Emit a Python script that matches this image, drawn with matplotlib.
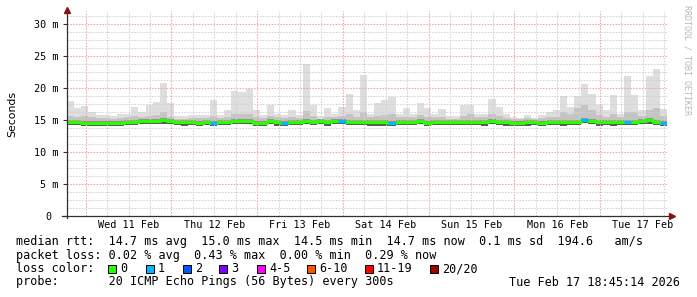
import numpy as np
import matplotlib
matplotlib.use('Agg')
import matplotlib.pyplot as plt

# hours since Tue 10 Feb 18:45, 2 hour bins
n_bins = 84
bin_h = 2.0

rtt_max = [18.0, 16.9, 17.2, 16.3, 15.8, 15.8, 15.6, 16.0, 16.0, 17.0, 16.3, 17.3,
           17.8, 20.8, 17.6, 15.6, 15.6, 15.8, 15.8, 15.8, 18.1, 15.8, 16.5, 19.6,
           19.4, 19.8, 16.5, 15.8, 17.3, 16.0, 15.8, 16.5, 15.8, 23.7, 17.3, 15.6,
           16.9, 16.0, 17.1, 19.0, 16.5, 22.1, 16.0, 17.6, 18.2, 18.6, 16.0, 16.8,
           16.0, 17.7, 16.9, 16.0, 16.7, 15.7, 15.7, 17.3, 17.4, 16.0, 16.0, 18.3,
           17.0, 16.0, 15.5, 15.3, 15.8, 15.3, 15.8, 16.2, 16.5, 18.7, 17.0, 18.8,
           20.7, 19.1, 17.3, 16.5, 18.9, 16.0, 21.9, 18.9, 16.5, 21.8, 23.0, 16.7]

rtt_q3 = [15.6, 15.5, 15.6, 15.4, 15.3, 15.3, 15.2, 15.3, 15.4, 15.6, 15.4, 15.7,
          15.8, 16.2, 15.5, 15.2, 15.2, 15.3, 15.3, 15.3, 15.6, 15.3, 15.5, 16.0,
          15.9, 16.0, 15.5, 15.3, 15.6, 15.4, 15.3, 15.5, 15.3, 16.4, 15.6, 15.2,
          15.5, 15.4, 15.6, 15.9, 15.5, 16.3, 15.4, 15.7, 15.8, 15.9, 15.4, 15.5,
          15.4, 15.8, 15.5, 15.4, 15.5, 15.2, 15.2, 15.6, 15.9, 15.4, 15.4, 15.9,
          15.6, 15.3, 15.2, 15.1, 15.3, 15.1, 15.3, 15.4, 15.5, 16.2, 16.0, 16.8,
          17.3, 16.6, 15.8, 15.5, 16.0, 15.4, 16.3, 16.2, 15.6, 16.6, 16.9, 15.6]

rtt_lo = [14.2, 14.2, 14.1, 14.1, 14.1, 14.1, 14.0, 14.1, 14.2, 14.2, 14.3, 14.3,
          14.3, 14.4, 14.4, 14.2, 14.1, 14.2, 14.1, 14.2, 14.1, 14.2, 14.2, 14.4,
          14.3, 14.3, 14.1, 14.0, 14.4, 14.1, 14.1, 14.2, 14.2, 14.4, 14.2, 14.3,
          14.1, 14.3, 14.3, 14.2, 14.2, 14.2, 14.1, 14.1, 14.1, 14.1, 14.2, 14.2,
          14.2, 14.3, 14.1, 14.2, 14.2, 14.2, 14.2, 14.2, 14.2, 14.2, 14.1, 14.3,
          14.2, 14.1, 14.1, 14.0, 14.1, 14.2, 14.1, 14.2, 14.2, 14.1, 14.2, 14.2,
          14.5, 14.3, 14.1, 14.2, 14.1, 14.2, 14.2, 14.2, 14.4, 14.4, 14.2, 14.0]

rtt_median = [14.75, 14.75, 14.6, 14.6, 14.6, 14.6, 14.5, 14.6, 14.75, 14.75, 14.8, 14.8,
              14.8, 14.95, 14.9, 14.75, 14.65, 14.7, 14.6, 14.75, 14.6, 14.7, 14.7, 14.9,
              14.8, 14.8, 14.6, 14.55, 14.9, 14.65, 14.6, 14.7, 14.7, 14.9, 14.75, 14.8,
              14.65, 14.8, 14.85, 14.7, 14.7, 14.7, 14.65, 14.65, 14.65, 14.6, 14.75, 14.7,
              14.7, 14.85, 14.6, 14.75, 14.7, 14.7, 14.7, 14.7, 14.75, 14.7, 14.65, 14.8,
              14.75, 14.65, 14.6, 14.55, 14.65, 14.7, 14.6, 14.75, 14.7, 14.65, 14.7, 14.75,
              15.0, 14.8, 14.65, 14.7, 14.65, 14.7, 14.7, 14.75, 14.9, 14.95, 14.75, 14.55]

loss = [0] * n_bins
for b in [20, 30, 38, 45, 72, 78, 83]:
    loss[b] = 1

loss_colors = ['#26ff00', '#00b8ff', '#0059ff', '#7e00ff', '#ff00ff',
               '#ff5500', '#ff0000', '#a10000']
loss_labels = ['0', '1', '2', '3', '4-5', '6-10', '11-19', '20/20']

day_labels = ['Wed 11 Feb', 'Thu 12 Feb', 'Fri 13 Feb', 'Sat 14 Feb',
              'Sun 15 Feb', 'Mon 16 Feb', 'Tue 17 Feb']
y_ticks = [0, 5, 10, 15, 20, 25, 30]
y_labels = ['0 ', '5 m', '10 m', '15 m', '20 m', '25 m', '30 m']

legend_lines = [
    'median rtt:  14.7 ms avg  15.0 ms max  14.5 ms min  14.7 ms now  0.1 ms sd  194.6   am/s',
    'packet loss: 0.02 % avg  0.43 % max  0.00 % min  0.29 % now',
]
probe_text = 'probe:       20 ICMP Echo Pings (56 Bytes) every 300s'
stamp_text = 'Tue Feb 17 18:45:14 2026'

mono = 'DejaVu Sans Mono'

fig = plt.figure(figsize=(6.97, 2.97), dpi=100)
fig.patch.set_facecolor('white')
ax = fig.add_axes([67/697, 81/297, 600/697, 204.8/297])
ax.set_xlim(0, 168)
ax.set_ylim(0, 32)

edges = np.arange(n_bins + 1) * bin_h
def ext(a):
    a = np.asarray(a, dtype=float)
    return np.append(a, a[-1])

med = np.asarray(rtt_median)
ax.fill_between(edges, ext(rtt_lo), ext(rtt_max), step='post', color='#dedede', lw=0, zorder=1)
ax.fill_between(edges, ext(rtt_lo), ext(rtt_q3), step='post', color='#c4c4c4', lw=0, zorder=1.1)
ax.fill_between(edges, ext(rtt_lo), ext(med + 0.3), step='post', color='#939393', lw=0, zorder=1.2)
ax.fill_between(edges, ext(rtt_lo), ext(med - 0.1), step='post', color='#5a5a5a', lw=0, zorder=1.3)

# grid
day0 = 5.25
for k in range(28):
    h = day0 + 6 * k
    if h > 168:
        break
    if k % 4 == 0:
        ax.axvline(h, color='#f0a0a0', lw=0.75, ls=(0, (1.4, 1.4)), zorder=2)
    else:
        ax.axvline(h, color='#d0d0d0', lw=0.75, ls=(0, (1.4, 1.4)), zorder=2)
for v in np.arange(1.25, 32, 1.25):
    if abs(v % 5) < 1e-6:
        ax.axhline(v, color='#f0a0a0', lw=0.75, ls=(0, (1.4, 1.4)), zorder=2)
    else:
        ax.axhline(v, color='#d0d0d0', lw=0.75, ls=(0, (1.4, 1.4)), zorder=2)

# median line coloured by loss
ax.step(edges, ext(med), where='post', color=loss_colors[0], lw=2.2, zorder=4)
for i in range(n_bins):
    if loss[i] > 0:
        ax.hlines(med[i], edges[i], edges[i + 1], color=loss_colors[loss[i]], lw=2.2, zorder=5)

for s in ax.spines.values():
    s.set_visible(False)
ax.plot([-0.008, 1.005], [0, 0], transform=ax.transAxes, color='#303030', lw=0.9, clip_on=False, zorder=6)
ax.plot([0, 0], [-0.012, 1.0], transform=ax.transAxes, color='#303030', lw=0.9, clip_on=False, zorder=6)
ax.plot([0], [1.005], marker='^', ms=4, color='#8b1010', transform=ax.transAxes, clip_on=False, zorder=7)
ax.plot([1.009], [0], marker='>', ms=4, color='#8b1010', transform=ax.transAxes, clip_on=False, zorder=7)

ax.set_yticks(y_ticks)
ax.set_yticklabels(y_labels, fontfamily=mono, fontsize=7.3)
ax.set_xticks([day0 + 12 + 24 * k for k in range(7)])
ax.set_xticklabels(day_labels, fontfamily=mono, fontsize=7.3)
ax.tick_params(axis='y', length=3, width=0.8, color='#303030', pad=3)
ax.tick_params(axis='x', length=0, pad=3)
ax.set_ylabel('Seconds', fontsize=7.8, labelpad=12)

fig.text(687/697, 1 - 5/297, 'RRDTOOL / TOBI OETIKER', rotation=270, fontfamily=mono,
         fontsize=6, color='#b8b8b8', ha='center', va='top')

fs = 8.5
fig.text(16/697, 1 - 241/297, legend_lines[0], fontfamily=mono, fontsize=fs, va='center')
fig.text(16/697, 1 - 255/297, legend_lines[1], fontfamily=mono, fontsize=fs, va='center')
fig.text(16/697, 1 - 268.5/297, 'loss color:', fontfamily=mono, fontsize=fs, va='center')
box_x = [108, 146, 183, 219, 257, 307, 365, 430]
for bx, c, lab in zip(box_x, loss_colors, loss_labels):
    fig.patches.append(plt.Rectangle((bx/697, 1 - 272.5/297), 8/697, 8/297, transform=fig.transFigure,
                                     facecolor=c, edgecolor='black', lw=0.7))
    fig.text((bx + 12)/697, 1 - 268.5/297, lab, fontfamily=mono, fontsize=fs, va='center')
fig.text(16/697, 1 - 282/297, probe_text, fontfamily=mono, fontsize=fs, va='center')
fig.text(680/697, 1 - 282/297, stamp_text, fontfamily=mono, fontsize=fs, va='center', ha='right')

fig.savefig('out.png', dpi=100)
